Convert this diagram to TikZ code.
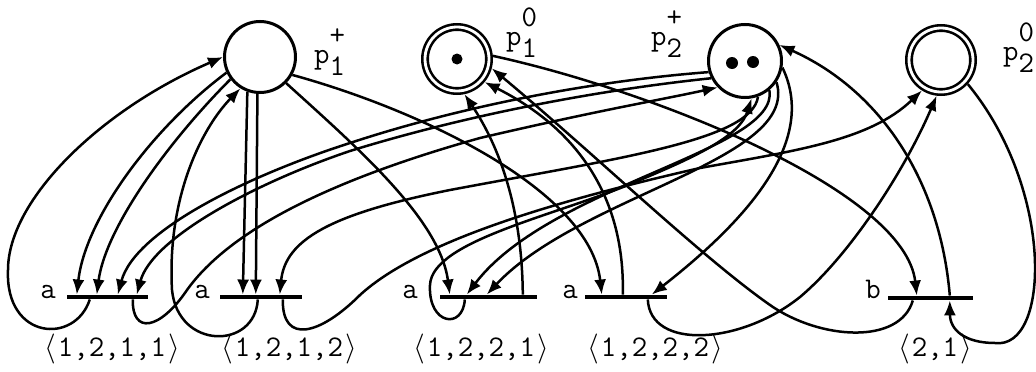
\RequirePackage{fix-cm}
\documentclass[tikz,border=0pt]{standalone}
\usepackage{fontspec}
\usetikzlibrary{arrows.meta}
\tikzset{
  place/.style={circle, draw, line width=3pt, minimum size=71pt, inner sep=0pt},
  dplace/.style={circle, draw, line width=2.6pt, double, double distance=2.8pt, minimum size=64pt, inner sep=0pt, outer sep=4pt},
  bar/.style={fill=black, draw=none, minimum height=4.5pt, inner sep=0pt},
  arc/.style={line width=2.5pt, -{Latex[length=15pt,width=12pt]}},
  tok/.style={circle, fill=black, inner sep=0pt},
  lbl/.style={font=\fontsize{30}{34}\selectfont\ttfamily\addfontfeatures{FakeStretch=0.9,FakeBold=1.6}, inner sep=0pt},
}
\newcommand{\plab}[2]{p\rlap{\raisebox{0.62em}{#1}}\raisebox{-0.42em}{#2}}
\newcommand{\tup}[1]{$\langle$\hspace{2pt}#1\hspace{2pt}$\rangle$}
\begin{document}
\begin{tikzpicture}[x=1pt,y=-1pt]
\useasboundingbox (0,0) rectangle (1036,372);
% places
\node[place]  (p1p) at (260,57) {};
\node[dplace] (p10) at (457,59) {};
\node[place, minimum size=73pt]  (p2p) at (745,61) {};
\node[dplace] (p20) at (941,60) {};
\node[tok, minimum size=11pt] (k1) at (457,59) {};
\node[tok, minimum size=12pt] (k2) at (732,63) {};
\node[tok, minimum size=12pt] (k3) at (753,62) {};
% place labels
\node[lbl, anchor=base west] (lp1p) at (314,63) {\plab{+}{1}};
\node[lbl, anchor=base west] (lp10) at (506,45) {\plab{0}{1}};
\node[lbl, anchor=base west] (lp2p) at (651,45) {\plab{+}{2}};
\node[lbl, anchor=base west] (lp20) at (1003,60) {\plab{0}{2}};
% transitions
\node[bar, minimum width=81pt] (t1) at (107.5,297) {};
\node[bar, minimum width=82pt] (t2) at (261,297) {};
\node[bar, minimum width=97pt] (t3) at (488.5,297) {};
\node[bar, minimum width=82pt] (t4) at (626,297) {};
\node[bar, minimum width=85pt] (t5) at (930.5,298) {};
\node[lbl, anchor=base] (la1) at (48,298) {a};
\node[lbl, anchor=base] (la2) at (202,298) {a};
\node[lbl, anchor=base] (la3) at (410,298) {a};
\node[lbl, anchor=base] (la4) at (570,298) {a};
\node[lbl, anchor=base] (lb5) at (873,298) {b};
\node[lbl, anchor=base] (n1) at (112,356) {\tup{1,2,1,1}};
\node[lbl, anchor=base] (n2) at (289,356) {\tup{1,2,1,2}};
\node[lbl, anchor=base] (n3) at (481,356) {\tup{1,2,2,1}};
\node[lbl, anchor=base] (n4) at (655,356) {\tup{1,2,2,2}};
\node[lbl, anchor=base] (n5) at (935,356) {\tup{2,1}};
% attach points on the bars
\coordinate (t1a) at ([xshift=10pt]t1.north west);
\coordinate (t1b) at ([xshift=30pt]t1.north west);
\coordinate (t1c) at ([xshift=51pt]t1.north west);
\coordinate (t1d) at ([xshift=70pt]t1.north west);
\coordinate (t1o1) at ([xshift=23pt]t1.south west);
\coordinate (t1o2) at ([xshift=66pt]t1.south west);
\coordinate (t2a) at ([xshift=23pt]t2.north west);
\coordinate (t2b) at ([xshift=36pt]t2.north west);
\coordinate (t2c) at ([xshift=60pt]t2.north west);
\coordinate (t2o1) at ([xshift=38pt]t2.south west);
\coordinate (t2o2) at ([xshift=63pt]t2.south west);
\coordinate (t3a) at ([xshift=10pt]t3.north west);
\coordinate (t3b) at ([xshift=27pt]t3.north west);
\coordinate (t3c) at ([xshift=47pt]t3.north west);
\coordinate (t3o1) at ([xshift=25pt]t3.south west);
\coordinate (t3o2) at ([xshift=83pt]t3.north west);
\coordinate (t4a) at ([xshift=17pt]t4.north west);
\coordinate (t4b) at ([xshift=67pt]t4.north west);
\coordinate (t4o1) at ([xshift=38pt]t4.north west);
\coordinate (t4o2) at ([xshift=63pt]t4.south west);
\coordinate (t5a) at ([xshift=29pt]t5.north west);
\coordinate (t5b) at ([xshift=62pt]t5.south west);
\coordinate (t5o1) at ([xshift=25pt]t5.south west);
\coordinate (t5o2) at ([xshift=62pt]t5.north west);
% p1+ -> T1 (two), T1 -> p1+
\draw[arc] (p1p.205) .. controls (150,130) and (85,220) .. (t1a);
\draw[arc] (p1p.217) .. controls (165,145) and (105,230) .. (t1b);
\draw[arc] (t1o1) .. controls (75,345) and (5,340) .. (8,270) .. controls (8,200) and (100,110) .. (p1p.180);
% p1+ -> T2 (two), T2 -> p1+
\draw[arc] (p1p.250) -- (t2a);
\draw[arc] (p1p.266) -- (t2b);
\draw[arc] (t2o1) .. controls (255,350) and (178,350) .. (172,290) .. controls (167,200) and (200,130) .. (p1p.238);
% p1+ -> T3, T4
\draw[arc] (p1p.315) .. controls (360,150) and (440,220) .. (t3a);
\draw[arc] (p1p.331) .. controls (420,110) and (590,190) .. (t4a);
% into p1^0
\draw[arc] (t3o2) .. controls (522,200) and (495,140) .. (p10.282);
\draw[arc] (t4o1) .. controls (625,200) and (580,130) .. (p10.320);
\draw[arc] (t5o1) .. controls (900,345) and (820,340) .. (770,305) .. controls (700,256) and (590,150) .. (p10.345);
% p1^0 -> T5
\draw[arc] (p10.5) .. controls (650,90) and (905,190) .. (t5a);
% T5 -> p2+, p2^0 -> T5
\draw[arc] (t5o2) .. controls (940,180) and (880,90) .. (p2p.25);
\draw[arc] (p20.318) .. controls (1055,190) and (1050,350) .. (995,343) .. controls (965,343) and (950,330) .. (t5b);
% p2+ -> T4, T4 -> p2^0
\draw[arc] (p2p.350) .. controls (815,135) and (760,210) .. (t4b);
\draw[arc] (t4o2) .. controls (650,350) and (740,345) .. (800,297) .. controls (850,255) and (905,170) .. (p20.263);
% T2 -> p2^0
\draw[arc] (t2o2) .. controls (282,345) and (320,335) .. (360,295) .. controls (420,240) and (560,200) .. (700,168) .. controls (800,150) and (870,140) .. (p20.238);
% T1 -> p2+
\draw[arc] (t1o2) .. controls (132,335) and (160,330) .. (187,290) .. controls (230,230) and (330,180) .. (480,138) .. controls (600,110) and (660,100) .. (p2p.224);
% T3 -> p2+
\draw[arc] (t3o1) .. controls (463,330) and (428,325) .. (430,285) .. controls (432,240) and (560,215) .. (640,180) .. controls (700,155) and (740,135) .. (p2p.280);
% p2+ -> T1 (two)
\draw[arc] (p2p.197) .. controls (580,82) and (450,110) .. (350,143) .. controls (250,175) and (135,230) .. (t1c);
\draw[arc] (p2p.207) .. controls (580,92) and (450,120) .. (350,151) .. controls (255,183) and (152,238) .. (t1d);
% p2+ -> T2
\draw[arc] (p2p.290) .. controls (752,140) and (620,158) .. (450,190) .. controls (330,214) and (285,240) .. (t2c);
% p2+ -> T3 (two)
\draw[arc] (p2p.310) .. controls (780,150) and (550,185) .. (t3b);
\draw[arc] (p2p.326) .. controls (800,160) and (580,195) .. (t3c);
\end{tikzpicture}
\end{document}
